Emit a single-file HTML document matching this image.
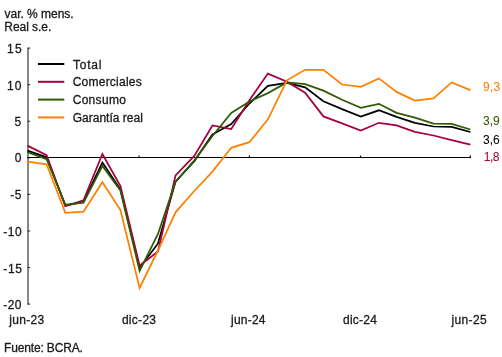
<!DOCTYPE html>
<html><head><meta charset="utf-8"><style>html,body{margin:0;padding:0;background:#fff;width:502px;height:357px;overflow:hidden}#c{position:absolute;left:0;top:0;width:502px;height:357px;will-change:transform}svg{display:block}</style></head>
<body><div id="c">
<svg width="502" height="357" viewBox="0 0 502 357">
<path d="M28,47.8 V304.6" stroke="#727272" stroke-width="1.7" fill="none"/>
<path d="M27.6,48.10 H30.1" stroke="#2a2a2a" stroke-width="1.1" fill="none"/>
<path d="M27.6,84.67 H30.1" stroke="#2a2a2a" stroke-width="1.1" fill="none"/>
<path d="M27.6,121.24 H30.1" stroke="#2a2a2a" stroke-width="1.1" fill="none"/>
<path d="M27.6,157.81 H30.1" stroke="#2a2a2a" stroke-width="1.1" fill="none"/>
<path d="M27.6,194.38 H30.1" stroke="#2a2a2a" stroke-width="1.1" fill="none"/>
<path d="M27.6,230.95 H30.1" stroke="#2a2a2a" stroke-width="1.1" fill="none"/>
<path d="M27.6,267.52 H30.1" stroke="#2a2a2a" stroke-width="1.1" fill="none"/>
<path d="M27.6,304.09 H30.1" stroke="#2a2a2a" stroke-width="1.1" fill="none"/>
<path d="M27.3,157.5 H470.9" stroke="#000" stroke-width="1.15" fill="none"/>
<path d="M139.05,157.5 V155.6" stroke="#000" stroke-width="1.2" fill="none"/>
<path d="M249.40,157.5 V155.6" stroke="#000" stroke-width="1.2" fill="none"/>
<path d="M360.50,157.5 V155.6" stroke="#000" stroke-width="1.2" fill="none"/>
<path d="M470.30,157.5 V155.6" stroke="#000" stroke-width="1.2" fill="none"/>
<polyline points="27.40,150.60 46.57,157.30 65.34,205.50 83.50,202.00 102.40,162.50 120.44,189.50 139.60,268.00 157.98,243.40 175.54,181.60 194.30,161.10 212.47,134.50 231.24,124.00 249.40,103.50 267.90,85.90 286.94,82.90 305.11,87.30 323.40,101.20 342.04,109.10 360.81,116.50 378.90,110.30 396.53,116.90 414.90,122.90 433.47,126.50 451.70,126.80 470.40,132.00" stroke="#000000" stroke-width="1.75" fill="none" stroke-linejoin="miter"/>
<polyline points="27.40,145.60 46.57,155.10 65.34,206.20 83.50,200.40 102.40,154.00 120.44,186.10 139.60,265.70 157.98,251.40 175.54,175.40 194.30,155.90 212.47,125.50 231.24,129.00 249.40,100.20 267.90,73.60 286.94,81.80 305.11,92.70 323.40,116.40 342.04,123.40 360.81,130.60 378.90,122.80 396.53,125.40 414.90,131.90 433.47,135.50 451.70,140.10 470.40,144.70" stroke="#A60040" stroke-width="1.75" fill="none" stroke-linejoin="miter"/>
<polyline points="27.40,152.30 46.57,159.20 65.34,204.50 83.50,202.60 102.40,166.00 120.44,190.60 139.60,271.00 157.98,234.00 175.54,181.60 194.30,160.50 212.47,136.00 231.24,112.90 249.40,101.40 267.90,93.10 286.94,82.50 305.11,84.20 323.40,90.60 342.04,99.80 360.81,107.80 378.90,103.80 396.53,112.90 414.90,117.70 433.47,123.70 451.70,123.80 470.40,129.50" stroke="#2F5B02" stroke-width="1.75" fill="none" stroke-linejoin="miter"/>
<polyline points="27.40,161.60 46.57,164.30 65.34,212.90 83.50,211.60 102.40,182.20 120.44,210.00 139.60,288.00 157.98,250.50 175.54,212.30 194.30,191.00 212.47,171.60 231.24,147.80 249.40,142.20 267.90,119.30 286.94,80.30 305.11,69.80 323.40,69.80 342.04,84.50 360.81,86.90 378.90,78.40 396.53,91.90 414.90,100.50 433.47,98.40 451.70,82.40 470.40,90.10" stroke="#FF8000" stroke-width="1.75" fill="none" stroke-linejoin="miter"/>
<path d="M38,64.00 H64.3" stroke="#000000" stroke-width="2"/>
<path d="M38,81.80 H64.3" stroke="#A60040" stroke-width="2"/>
<path d="M38,99.60 H64.3" stroke="#2F5B02" stroke-width="2"/>
<path d="M38,117.40 H64.3" stroke="#FF8000" stroke-width="2"/>
<g font-family="Liberation Sans, sans-serif" font-size="12">
<text x="4.61" y="18.00" fill="#1a1a1a" stroke="#1a1a1a" stroke-width="0.3" letter-spacing="-0.035">var. % mens.</text>
<text x="4.34" y="31.00" fill="#1a1a1a" stroke="#1a1a1a" stroke-width="0.3" letter-spacing="-0.044">Real s.e.</text>
<text x="7.12" y="53.00" fill="#1a1a1a" stroke="#1a1a1a" stroke-width="0.3" letter-spacing="1.29">15</text>
<text x="6.88" y="90.00" fill="#1a1a1a" stroke="#1a1a1a" stroke-width="0.3" letter-spacing="1.313">10</text>
<text x="14.54" y="126.00" fill="#1a1a1a" stroke="#1a1a1a" stroke-width="0.3" letter-spacing="0">5</text>
<text x="14.64" y="162.00" fill="#1a1a1a" stroke="#1a1a1a" stroke-width="0.3" letter-spacing="0">0</text>
<text x="10.14" y="199.00" fill="#1a1a1a" stroke="#1a1a1a" stroke-width="0.3" letter-spacing="0.644">-5</text>
<text x="3.34" y="236.00" fill="#1a1a1a" stroke="#1a1a1a" stroke-width="0.3" letter-spacing="0.54">-10</text>
<text x="3.34" y="273.00" fill="#1a1a1a" stroke="#1a1a1a" stroke-width="0.3" letter-spacing="0.649">-15</text>
<text x="3.34" y="309.00" fill="#1a1a1a" stroke="#1a1a1a" stroke-width="0.3" letter-spacing="0.358">-20</text>
<text x="9.32" y="324.00" fill="#1a1a1a" stroke="#1a1a1a" stroke-width="0.3" letter-spacing="0.305">jun-23</text>
<text x="121.90" y="324.00" fill="#1a1a1a" stroke="#1a1a1a" stroke-width="0.3" letter-spacing="0.289">dic-23</text>
<text x="231.01" y="324.00" fill="#1a1a1a" stroke="#1a1a1a" stroke-width="0.3" letter-spacing="0.234">jun-24</text>
<text x="343.05" y="324.00" fill="#1a1a1a" stroke="#1a1a1a" stroke-width="0.3" letter-spacing="0.232">dic-24</text>
<text x="451.49" y="324.00" fill="#1a1a1a" stroke="#1a1a1a" stroke-width="0.3" letter-spacing="0.375">jun-25</text>
<text x="4.01" y="352.00" fill="#1a1a1a" stroke="#1a1a1a" stroke-width="0.3" letter-spacing="-0.155">Fuente: BCRA.</text>
<text x="72.91" y="69.00" fill="#1a1a1a" stroke="#1a1a1a" stroke-width="0.3" letter-spacing="0.815">Total</text>
<text x="72.68" y="86.00" fill="#1a1a1a" stroke="#1a1a1a" stroke-width="0.3" letter-spacing="0.238">Comerciales</text>
<text x="72.68" y="104.00" fill="#1a1a1a" stroke="#1a1a1a" stroke-width="0.3" letter-spacing="0.304">Consumo</text>
<text x="72.68" y="122.00" fill="#1a1a1a" stroke="#1a1a1a" stroke-width="0.3" letter-spacing="0.014">Garantía real</text>
<text x="483.03" y="91.00" fill="#FF8000" stroke="#FF8000" stroke-width="0.05" letter-spacing="0.187">9,3</text>
<text x="482.93" y="125.00" fill="#2F5B02" stroke="#2F5B02" stroke-width="0.05" letter-spacing="0.088">3,9</text>
<text x="483.11" y="144.00" fill="#000000" stroke="#000000" stroke-width="0.05" letter-spacing="-0.023">3,6</text>
<text x="483.67" y="161.00" fill="#A60040" stroke="#A60040" stroke-width="0.05" letter-spacing="-0.405">1,8</text>
</g>
</svg>
</div></body></html>
